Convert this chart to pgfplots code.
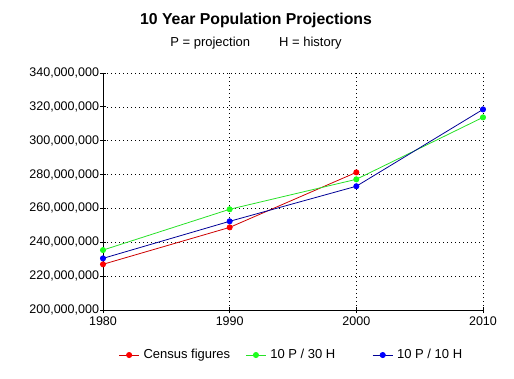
\documentclass[border=0pt]{standalone}
\usepackage{fontspec}
\setmainfont{Liberation Sans}
\usepackage{pgfplots}
\pgfplotsset{compat=1.18}
\definecolor{redline}{RGB}{205,0,0}
\definecolor{redmark}{RGB}{255,0,0}
\definecolor{greenline}{RGB}{40,225,40}
\definecolor{greenmark}{RGB}{30,255,30}
\definecolor{blueline}{RGB}{0,0,150}
\definecolor{bluemark}{RGB}{0,0,255}
\begin{document}
\begin{tikzpicture}[x=1pt,y=1pt]
\useasboundingbox (0,0) rectangle (514,378);
\node[font=\fontsize{15.8}{18}\selectfont\bfseries] at (256,358) {10 Year Population Projections};
\node[font=\fontsize{13}{15}\selectfont] at (256,335) {P = projection\hspace{29pt}H = history};
\begin{axis}[
  at={(103pt,68pt)}, anchor=south west,
  scale only axis, width=380pt, height=237pt,
  xmin=1980, xmax=2010, ymin=200000000, ymax=340000000,
  xtick={1980,1990,2000,2010},
  ytick={200000000,220000000,240000000,260000000,280000000,300000000,320000000,340000000},
  axis lines=left, axis line style={-, black, line width=0.9pt},
  grid=major, major grid style={black, dash pattern=on 0.8pt off 3.2pt, line width=0.7pt},
  tick align=center, major tick length=6pt, tick style={black, line width=0.8pt},
  scaled y ticks=false,
  /pgf/number format/assume math mode=true,
  yticklabel style={xshift=2.5pt, /pgf/number format/.cd, fixed, precision=0, 1000 sep={,}},
  xticklabel style={/pgf/number format/1000 sep={}},
  tick label style={font=\fontsize{12.5}{14}\selectfont},
  legend style={at={(0.033,-0.19)}, anchor=west, draw=none, fill=none,
    font=\fontsize{13}{15}\selectfont, legend columns=3,
    /tikz/every even column/.append style={column sep=0pt}},
  legend image code/.code={\draw[mark repeat=2,mark phase=2,#1] plot coordinates {(0pt,0pt) (10pt,0pt) (20pt,0pt)};},
  legend cell align=left,
]
\addplot[color=redline, line width=0.8pt, mark=*, mark size=2.6pt, mark options={fill=redmark, draw=redmark}]
  coordinates {(1980,227000000) (1990,248800000) (2000,281300000)};
\addlegendentry{\makebox[102pt][l]{\hspace{2pt}Census figures}}
\addplot[color=greenline, line width=0.8pt, mark=*, mark size=2.6pt, mark options={fill=greenmark, draw=greenmark}]
  coordinates {(1980,235400000) (1990,259500000) (2000,277200000) (2010,313800000)};
\addlegendentry{\makebox[102pt][l]{\hspace{2pt}10 P / 30 H}}
\addplot[color=blueline, line width=0.8pt, mark=*, mark size=2.6pt, mark options={fill=bluemark, draw=bluemark}]
  coordinates {(1980,230500000) (1990,252400000) (2000,273100000) (2010,318500000)};
\addlegendentry{\hspace{2pt}10 P / 10 H}
\end{axis}
\end{tikzpicture}
\end{document}
